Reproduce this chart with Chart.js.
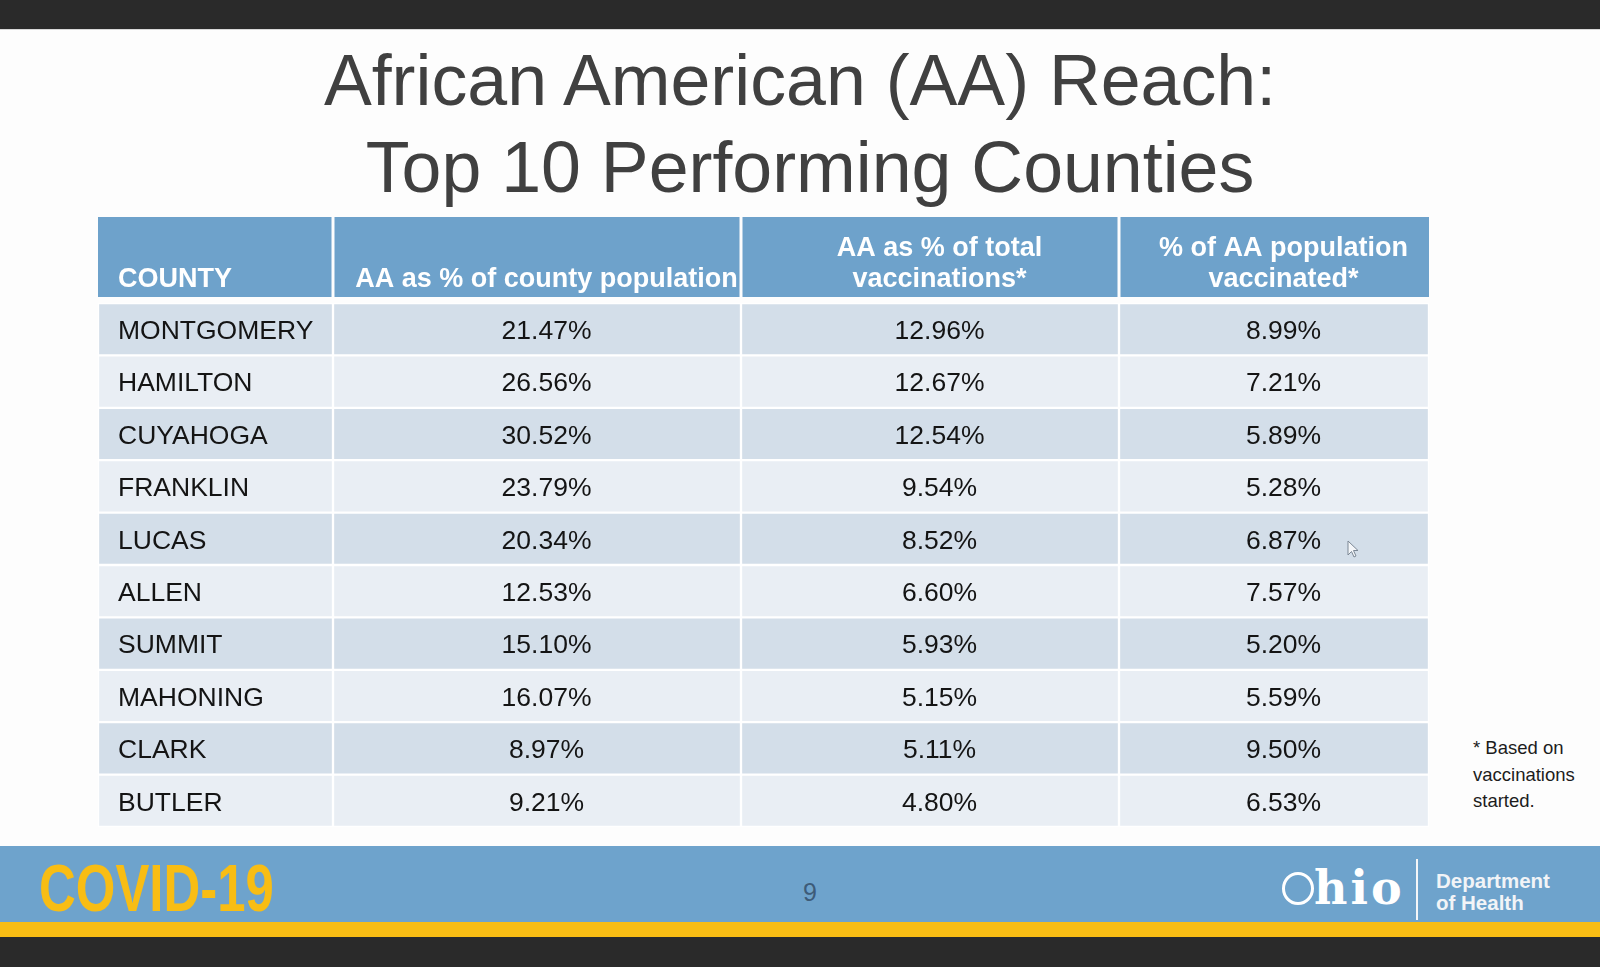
<!DOCTYPE html>
<html>
<head>
<meta charset="utf-8">
<title>African American (AA) Reach: Top 10 Performing Counties</title>
<script src="https://cdn.jsdelivr.net/npm/chart.js@4.4.0/dist/chart.umd.min.js"></script>
<style>
    html, body { margin: 0; padding: 0; }
    body {
        width: 1600px; height: 967px; position: relative; overflow: hidden;
        background: #fdfdfd; font-family: "Liberation Sans", Arial, sans-serif;
    }
    .abs { position: absolute; white-space: nowrap; }
    #topBar { left: 0; top: 0; width: 1600px; height: 29px; background: #2a2a2a; border-bottom: 1px solid #d8d8d8; }
    .title { left: 0; width: 1600px; text-align: center; font-size: 71.7px; line-height: 71.7px; color: #404040; }
    #tableBox { left: 98px; top: 217px; width: 1331px; height: 610px; }
    #note { left: 1473px; top: 735px; font-size: 18.5px; line-height: 26.5px; color: #1c1c1c; }
    #footer { left: 0; top: 846px; width: 1600px; height: 76px; background: #6ea3cc; }
    #yellow { left: 0; top: 922px; width: 1600px; height: 15px; background: #f8bd14; }
    #bottomBar { left: 0; top: 937px; width: 1600px; height: 30px; background: #2a2a2a; }
    #covid { left: 39px; top: 854px; font-size: 67px; line-height: 67px; font-weight: bold; color: #f8bd14;
        transform: scaleX(0.76); transform-origin: left top; }
    #page { left: 760px; width: 100px; text-align: center; top: 880px; font-size: 25px; line-height: 25px; color: #3d5b78; }
    #ohioO { left: 1282px; top: 872px; width: 32px; height: 33px; box-sizing: border-box; border: 3px solid #fff; border-radius: 50%; }
    #ohio { left: 1314px; top: 865px; font-family: "DejaVu Serif", serif; font-weight: bold; font-size: 46px; line-height: 46px; color: #fff; letter-spacing: 3px; }
    #sep { left: 1416px; top: 859px; width: 2px; height: 61px; background: #f4f6f8; }
    #dept { left: 1436px; top: 870px; font-size: 20.5px; line-height: 22px; font-weight: bold; color: #f2f4f7; }
    #cursor { left: 1347px; top: 540px; }
</style>
</head>
<body>
<div class="abs" id="topBar"></div>
<div class="abs title" style="top:45px;">African American (AA) Reach:</div>
<div class="abs title" style="top:132px; left:10px;">Top 10 Performing Counties</div>

<div class="abs" id="tableBox"><canvas id="countyTable"></canvas></div>

<div class="abs" id="note">* Based on<br>vaccinations<br>started.</div>

<svg class="abs" id="cursor" width="14" height="20" viewBox="0 0 14 20">
    <path d="M1 1 L1 15 L4.5 11.5 L7 17 L9 16 L6.5 10.5 L11 10.5 Z" fill="#f4f6f9" stroke="#7b8794" stroke-width="1"/>
</svg>

<div class="abs" id="footer"></div>
<div class="abs" id="yellow"></div>
<div class="abs" id="bottomBar"></div>
<div class="abs" id="covid">COVID-19</div>
<div class="abs" id="page">9</div>
<div class="abs" id="ohioO"></div>
<div class="abs" id="ohio">hio</div>
<div class="abs" id="sep"></div>
<div class="abs" id="dept">Department<br>of Health</div>

<script>
// table data
const counties = ["MONTGOMERY", "HAMILTON", "CUYAHOGA", "FRANKLIN", "LUCAS", "ALLEN", "SUMMIT", "MAHONING", "CLARK", "BUTLER"];
const aaShareOfPopulation = [21.47, 26.56, 30.52, 23.79, 20.34, 12.53, 15.10, 16.07, 8.97, 9.21];
const aaShareOfVaccinations = [12.96, 12.67, 12.54, 9.54, 8.52, 6.60, 5.93, 5.15, 5.11, 4.80];
const aaPopulationVaccinated = [8.99, 7.21, 5.89, 5.28, 6.87, 7.57, 5.20, 5.59, 9.50, 6.53];
const headerLines = [
    ["COUNTY"],
    ["AA as % of county population"],
    ["AA as % of total", "vaccinations*"],
    ["% of AA population", "vaccinated*"]
];

// layout (pixel widths of the columns, in x-scale units)
const colEdges = [0, 235, 643, 1021, 1331];
const headerGap = 6;
const headerColor = "#6ea2cb";
const rowColors = ["#d3dee9", "#e9eef4"];
const valueColumns = [aaShareOfPopulation, aaShareOfVaccinations, aaPopulationVaccinated];

const tablePlugin = {
    id: "tableCells",
    beforeDatasetsDraw(chart) {
        const { ctx, chartArea, scales: { x } } = chart;
        const bottom = chartArea.top - headerGap;
        ctx.save();
        headerLines.forEach((lines, c) => {
            const x0 = x.getPixelForValue(colEdges[c]);
            const x1 = x.getPixelForValue(colEdges[c + 1]);
            const padL = c > 0 ? 1.5 : 0;
            const padR = c < headerLines.length - 1 ? 1.5 : 0;
            ctx.fillStyle = headerColor;
            ctx.fillRect(x0 + padL, 0, x1 - x0 - padL - padR, bottom);

            ctx.fillStyle = "#ffffff";
            ctx.font = 'bold 27px "Liberation Sans", Arial, sans-serif';
            ctx.textBaseline = "alphabetic";
            ctx.textAlign = c === 0 ? "left" : "center";
            const tx = c === 0 ? x0 + 20 : (x0 + x1) / 2 + 9.5;
            lines.forEach((s, k) => {
                ctx.fillText(s, tx, bottom - 10 - (lines.length - 1 - k) * 31);
            });
        });
        ctx.restore();
    },
    afterDatasetsDraw(chart) {
        const { ctx } = chart;
        ctx.save();
        ctx.font = '26.5px "Liberation Sans", Arial, sans-serif';
        ctx.fillStyle = "#141414";
        ctx.textBaseline = "middle";
        chart.data.datasets.forEach((ds, c) => {
            chart.getDatasetMeta(c).data.forEach((bar, i) => {
                const left = Math.min(bar.x, bar.base);
                const right = Math.max(bar.x, bar.base);
                if (c === 0) {
                    ctx.textAlign = "left";
                    ctx.fillText(counties[i], left + 20, bar.y + 2.5);
                } else {
                    ctx.textAlign = "center";
                    ctx.fillText(valueColumns[c - 1][i].toFixed(2) + "%", (left + right) / 2 + 9.5, bar.y + 2.5);
                }
            });
        });
        ctx.restore();
    }
};

const datasets = headerLines.map((h, c) => ({
    label: h.join(" "),
    data: counties.map(() => [colEdges[c], colEdges[c + 1]]),
    backgroundColor: ctx => rowColors[ctx.dataIndex % 2],
    borderColor: "#ffffff",
    borderWidth: 1.5,
    borderSkipped: false,
    barPercentage: 1,
    categoryPercentage: 1,
    grouped: false
}));

new Chart(document.getElementById("countyTable"), {
    type: "bar",
    data: { labels: counties, datasets },
    options: {
        indexAxis: "y",
        responsive: true,
        maintainAspectRatio: false,
        animation: false,
        events: [],
        layout: { padding: { top: 86, left: 0, right: 0, bottom: 0 } },
        scales: {
            x: { type: "linear", min: 0, max: colEdges[colEdges.length - 1], display: false },
            y: { type: "category", display: false }
        },
        plugins: {
            legend: { display: false },
            tooltip: { enabled: false }
        }
    },
    plugins: [tablePlugin]
});
</script>
</body>
</html>
